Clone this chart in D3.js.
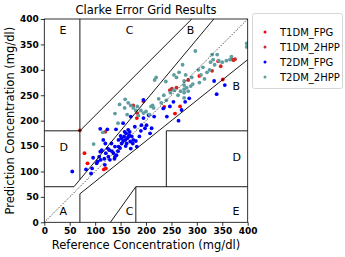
<!DOCTYPE html>
<html><head><meta charset="utf-8">
<script src="https://cdn.jsdelivr.net/npm/d3@7"></script>
<style>body{margin:0;background:#fff}svg{display:block}text{font-family:"DejaVu Sans",sans-serif}</style>
</head><body><svg id="c" width="345" height="257"></svg>
<script>
const seriesNames = ["T1DM_FPG","T1DM_2HPP","T2DM_FPG","T2DM_2HPP"];
const seriesColors = ["#ff0000","#cc2a2a","#0000ff","#5f9ea0"];
const ticks = [0,50,100,150,200,250,300,350,400];
const t1dmFpg = [[79,136],[85,116],[117,104],[121,106],[182,205],[236,227],[257,214],[267,228],[305,288],[342,317],[351,281],[368,321]];
const t1dmHpp = [[70,181],[120,178],[175,230],[183,215],[195,238],[247,260],[251,263],[260,265],[283,280],[330,298],[347,307],[372,319],[375,321]];
const t2dmFpg = [[55,100],[82,104],[92,96],[94,106],[96,127],[103,116],[108,129],[110,139],[111,123],[113,142],[110,184],[116,162],[119,113],[121,136],[124,183],[126,129],[128,142],[129,123],[132,155],[136,136],[139,149],[141,183],[142,132],[146,162],[139,129],[146,149],[149,146],[152,155],[155,195],[157,169],[159,162],[161,175],[162,155],[163,165],[165,182],[167,172],[169,159],[170,208],[172,169],[174,155],[175,162],[178,188],[182,149],[187,169],[191,191],[195,205],[198,185],[201,191],[205,211],[208,175],[211,185],[195,241],[216,208],[234,224],[241,208],[247,228],[254,237],[264,200],[270,221],[277,237],[285,244],[334,278],[339,252],[355,270],[120,155],[125,145],[133,140],[150,170],[155,160],[160,150],[165,168],[168,178],[158,178],[152,165],[145,140],[138,125],[118,125],[105,120],[170,145],[180,160],[190,180]];
const t2dmHpp = [[97,154],[115,177],[145,195],[139,214],[148,232],[158,225],[159,242],[163,212],[165,235],[170,230],[175,225],[180,220],[183,228],[190,220],[195,215],[200,218],[207,212],[213,230],[215,225],[217,280],[220,285],[225,243],[230,235],[235,250],[240,240],[239,277],[248,255],[255,260],[260,285],[263,250],[268,258],[275,245],[275,255],[275,262],[275,270],[275,278],[278,290],[280,265],[283,258],[288,268],[290,285],[292,272],[297,337],[303,300],[305,275],[308,290],[312,305],[315,282],[320,295],[325,300],[327,315],[330,330],[332,320],[335,310],[340,330],[343,318],[350,315],[358,318],[365,320],[368,326],[398,352],[398,345],[272,310],[265,295],[255,290],[210,228],[185,210]];
const gridLines = [[[0,70],[175/3,70]],[[175/3,70],[400/1.2,400]],[[70,84],[70,400]],[[0,180],[70,180]],[[70,180],[290,400]],[[70,0],[70,56]],[[70,56],[400,320]],[[180,0],[180,70]],[[180,70],[400,70]],[[240,70],[240,180]],[[240,180],[400,180]],[[130,0],[180,70]]];
const zoneLabels = [["A",30,15],["B",370,260],["B",280,370],["C",160,370],["C",160,15],["D",30,140],["D",370,120],["E",30,370],["E",370,15]];

const svg = d3.select("#c");
const L=44.3,R=247.7,T=19,B=222.3;
const x = d3.scaleLinear().domain([0,400]).range([L,R]);
const y = d3.scaleLinear().domain([0,400]).range([B,T]);
const g = svg.append("g");
g.append("defs").append("clipPath").attr("id","cp").append("rect").attr("x",L).attr("y",T).attr("width",R-L).attr("height",B-T);
const pg = g.append("g").attr("clip-path","url(#cp)");
const allSeries=[t1dmFpg,t1dmHpp,t2dmFpg,t2dmHpp];
allSeries.forEach((s,i)=>{
  pg.selectAll(null).data(s).enter().append("circle").attr("cx",d=>x(d[0])).attr("cy",d=>y(d[1])).attr("r",1.9).attr("fill",seriesColors[i]);
});
pg.append("line").attr("x1",x(0)).attr("y1",y(0)).attr("x2",x(400)).attr("y2",y(400)).attr("stroke","#000").attr("stroke-width",0.9).attr("stroke-dasharray","1,1.6");
gridLines.forEach(l=>{
  pg.append("line").attr("x1",x(l[0][0])).attr("y1",y(l[0][1])).attr("x2",x(l[1][0])).attr("y2",y(l[1][1])).attr("stroke","#000").attr("stroke-width",0.9);
});
zoneLabels.forEach(z=>{
  g.append("text").attr("x",x(z[1])).attr("y",y(z[2])).attr("font-size",11).attr("fill","#000").text(z[0]);
});
const xa = g.append("g").attr("transform",`translate(0,${B})`).call(d3.axisBottom(x).tickValues(ticks).tickSize(3.5).tickPadding(2));
const ya = g.append("g").attr("transform",`translate(${L},0)`).call(d3.axisLeft(y).tickValues(ticks).tickSize(3.5).tickPadding(2));
[xa,ya].forEach(a=>{a.select(".domain").remove();a.selectAll("text").attr("font-family","DejaVu Sans").attr("font-size",9).attr("font-weight","bold").attr("fill","#000");a.selectAll("line").attr("stroke","#000").attr("stroke-width",0.8);});
g.append("rect").attr("x",L).attr("y",T).attr("width",R-L).attr("height",B-T).attr("fill","none").attr("stroke","#000").attr("stroke-width",0.8);
g.append("text").attr("x",(L+R)/2).attr("y",14).attr("text-anchor","middle").attr("font-size",11.5).text("Clarke Error Grid Results");
g.append("text").attr("x",(L+R)/2).attr("y",249).attr("text-anchor","middle").attr("font-size",11.5).text("Reference Concentration (mg/dl)");
g.append("text").attr("transform",`translate(14,${(T+B)/2}) rotate(-90)`).attr("text-anchor","middle").attr("font-size",11.5).text("Prediction Concentration (mg/dl)");
const lg = g.append("g");
lg.append("rect").attr("x",252.5).attr("y",13.5).attr("width",90).attr("height",75).attr("rx",2).attr("fill","#fff").attr("stroke","#ccc").attr("stroke-width",0.8);
seriesNames.forEach((n,i)=>{
  const yy=32+i*15;
  lg.append("circle").attr("cx",265).attr("cy",yy).attr("r",1.5).attr("fill",seriesColors[i]);
  lg.append("text").attr("x",280).attr("y",yy+3.5).attr("font-size",10).text(n);
});
</script></body></html>
